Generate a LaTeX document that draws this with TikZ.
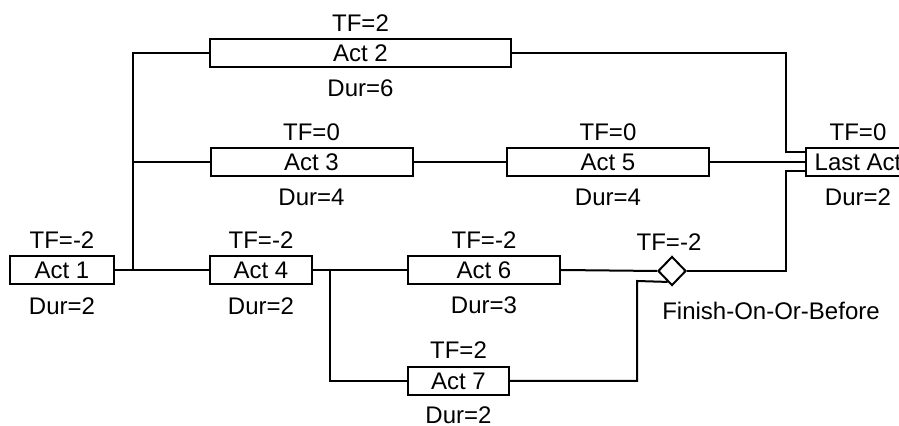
\documentclass[tikz,border=0pt]{standalone}
\usepackage{fontspec}
\setmainfont{Liberation Sans}
\usetikzlibrary{positioning,shapes.geometric}

\begin{document}
\begin{tikzpicture}[x=0.5pt, y=-0.5pt, line width=1pt,
        act/.style={draw, rectangle, minimum width=#1, minimum height=14pt,
            inner sep=0pt, fill=white, font=\fontsize{12}{14}\selectfont},
        txt/.style={anchor=base, inner sep=0pt, font=\fontsize{12}{14}\selectfont}]
        \clip (0,0) rectangle (899,426);

        % Activities
        \node[act=52pt]    (a1)   at (62,270)    {Act 1};
        \node[act=150.5pt] (a2)   at (360.5,53)  {Act 2};
        \node[act=101pt]   (a3)   at (311.5,162) {Act 3};
        \node[act=51pt]    (a4)   at (261,270)   {Act 4};
        \node[act=101pt]   (a5)   at (608,162)   {Act 5};
        \node[act=76pt]    (a6)   at (484,270)   {Act 6};
        \node[act=50.5pt]  (a7)   at (458.5,381) {Act 7};
        \node[act=52pt]    (last) at (858,162)   {Last Act};

        % Finish-on-or-before milestone
        \node[diamond, draw, fill=white, inner sep=0pt, minimum width=14pt,
            minimum height=14.5pt] (fob) at (672,271) {};

        % Total float
        \node[txt] (a1tf)   at (62,249)    {TF=-2};
        \node[txt] (a2tf)   at (360.5,32)  {TF=2};
        \node[txt] (a3tf)   at (311.5,141) {TF=0};
        \node[txt] (a4tf)   at (261,249)   {TF=-2};
        \node[txt] (a5tf)   at (608,141)   {TF=0};
        \node[txt] (a6tf)   at (484,249)   {TF=-2};
        \node[txt] (a7tf)   at (458.5,359) {TF=2};
        \node[txt] (lasttf) at (858,141)   {TF=0};
        \node[txt] (fobtf)  at (669,251)   {TF=-2};

        % Durations
        \node[txt] (a1dur)   at (62,315)    {Dur=2};
        \node[txt] (a2dur)   at (360.5,97)  {Dur=6};
        \node[txt] (a3dur)   at (311.5,206) {Dur=4};
        \node[txt] (a4dur)   at (261,315)   {Dur=2};
        \node[txt] (a5dur)   at (608,206)   {Dur=4};
        \node[txt] (a6dur)   at (484,314)   {Dur=3};
        \node[txt] (a7dur)   at (458.5,424) {Dur=2};
        \node[txt] (lastdur) at (858,206)   {Dur=2};
        \node[txt] (fobtxt)  at (771,320)   {Finish-On-Or-Before};

        % Links
        \coordinate (s1) at (133,270);
        \coordinate (s2) at (330,270);
        \coordinate (j1) at (786,152);
        \coordinate (j2) at (786,171);
        \coordinate (j3) at (637,281);

        \draw (a1.east) -- (a4.west);
        \draw (s1) |- (a2.west);
        \draw (s1 |- a3.west) -- (a3.west);
        \draw (a3.east) -- (a5.west);
        \draw (a5.east) -- (last.west);
        \draw (a4.east) -- (a6.west);
        \draw (s2) |- (a7.west);
        \draw (a6.east) -- (fob.west);
        \draw (a2.east) -| (j1) -- (j1 -| last.west);
        \draw (fob.east) -| (j2) -- (j2 -| last.west);
        \draw (a7.east) -| (j3) -- (fob.-112);
\end{tikzpicture}
\end{document}
